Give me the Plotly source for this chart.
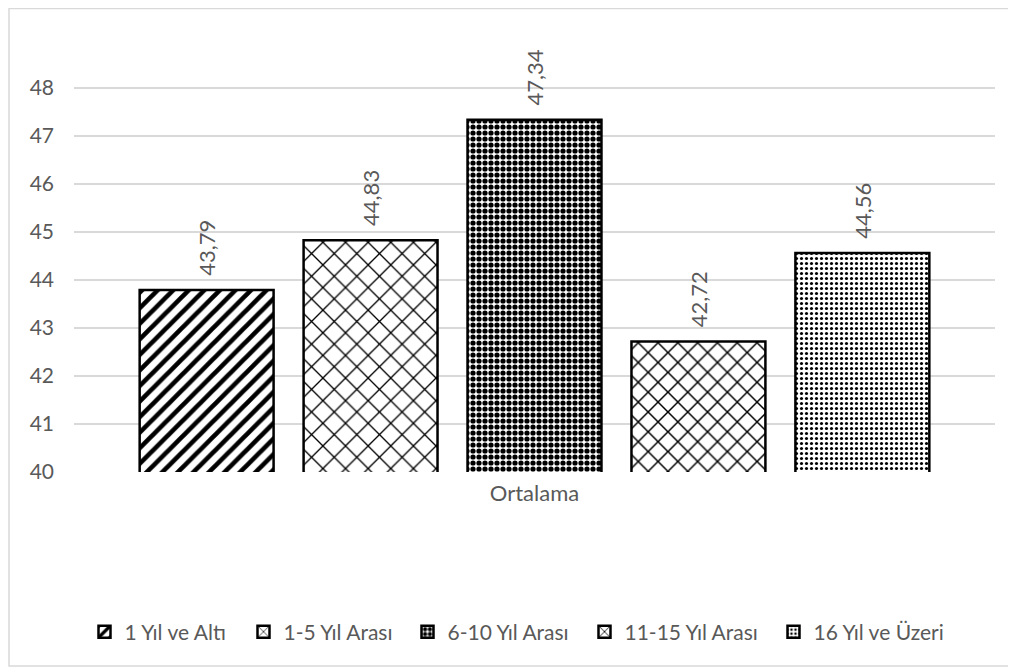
import plotly.graph_objects as go

categories = ["Ortalama"]
series_names = ["1 Yıl ve Altı", "1-5 Yıl Arası", "6-10 Yıl Arası", "11-15 Yıl Arası", "16 Yıl ve Üzeri"]
series_values = [43.79, 44.83, 47.34, 42.72, 44.56]
y_ticks = [40, 41, 42, 43, 44, 45, 46, 47, 48]

patterns = [
    dict(shape="/", size=11, solidity=0.42),
    dict(shape="x", size=16, solidity=0.16),
    dict(shape=".", size=6, solidity=0.6),
    dict(shape="x", size=14, solidity=0.2),
    dict(shape=".", size=5, solidity=0.3),
]
legend_widths = [114, 119, 132, 144, 132]

FONT = "Lato, Carlito, Calibri, sans-serif"
GRAY = "#595959"

# The page body has an 8px margin, so the figure is drawn 8px smaller
# and all layout measures are taken relative to that offset.
W, H = 1008, 660
L, R, T, B = 66, 21, 8, 196
PW, PH = W - L - R, H - T - B

fig = go.Figure()
for name, val, pat, lw in zip(series_names, series_values, patterns, legend_widths):
    fig.add_trace(go.Bar(
        x=categories, y=[val], name=name, legendwidth=lw,
        marker=dict(color="white", line=dict(color="black", width=2.5),
                    pattern=dict(fgcolor="black", bgcolor="white", fillmode="replace", **pat)),
        texttemplate="\u00a0\u00a0%{y:.2f}", textposition="outside", textangle=-90,
        textfont=dict(family=FONT, size=22, color=GRAY),
        cliponaxis=True,
    ))

fig.update_layout(
    width=W, height=H,
    paper_bgcolor="white", plot_bgcolor="white",
    separators=",.",
    barmode="group", bargap=0.11, bargroupgap=0.183,
    margin=dict(l=L, r=R, t=T, b=B, autoexpand=False),
    font=dict(family=FONT, size=21, color=GRAY),
    showlegend=True,
    legend=dict(orientation="h", x=0.5 - 17 / PW, xanchor="center", y=(464 - 624) / PH, yanchor="middle",
                font=dict(family=FONT, size=21, color=GRAY), traceorder="normal",
                itemwidth=30),
    xaxis=dict(showgrid=False, showline=False, ticks="", ticklabelstandoff=6,
               tickfont=dict(size=22, color=GRAY)),
    yaxis=dict(range=[40, 49.5], tickvals=y_ticks, showgrid=True, gridcolor="#d9d9d9", gridwidth=1.5,
               zeroline=False, showline=False, ticks="", ticklabelstandoff=19,
               tickfont=dict(size=21, color=GRAY)),
    shapes=[dict(type="rect", xref="paper", yref="paper",
                 x0=(1 - L) / PW, x1=(1006 - L) / PW,
                 y0=(464 - 658) / PH, y1=(464 - 0.5) / PH,
                 line=dict(color="#d9d9d9", width=1.5), fillcolor="rgba(0,0,0,0)", layer="below")],
)

fig.write_html("out.html")
